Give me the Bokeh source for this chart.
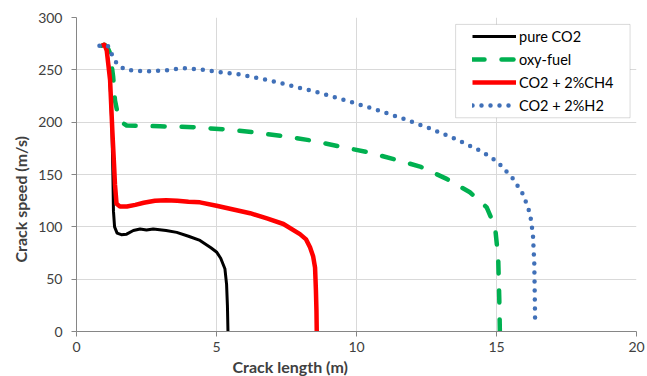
from bokeh.plotting import figure
from bokeh.models import Range1d, Legend, LegendItem, BoxAnnotation, FixedTicker, Title
from bokeh.embed import file_html
from bokeh.resources import INLINE

# ---- data ----
pure_x = [0.9, 1.0, 1.08, 1.17, 1.23, 1.27, 1.30, 1.32, 1.36, 1.45, 1.6, 1.79, 2.03, 2.27, 2.5, 2.74,
          3.2, 3.58, 4.0, 4.41, 4.8, 5.0, 5.15, 5.3, 5.36, 5.39, 5.41]
pure_y = [273, 274, 268, 250, 220, 190, 150, 115, 100, 94, 92.5, 93, 96.5, 98, 97, 98,
          96.5, 94.7, 91, 87, 80, 76, 70, 60, 45, 25, 0]

oxy_x = [0.9, 1.0, 1.1, 1.2, 1.31, 1.375, 1.46, 1.6, 1.79, 2.98, 4.17, 5.36, 6.31, 7.39, 8.4,
         9.41, 10.42, 11.38, 12.27, 13.22, 14.05, 14.65, 14.95, 15.06, 15.1, 15.12]
oxy_y = [273, 274, 272, 266, 243, 220.7, 209.5, 200, 196.8, 196.1, 195.2, 193, 190.4, 186.6, 182.4,
         176.7, 171.2, 164.3, 157.6, 145.8, 133, 118.6, 99.5, 70.8, 30, 0]

ch4_x = [0.9, 1.0, 1.08, 1.2, 1.28, 1.34, 1.375, 1.43, 1.55, 1.8, 2.1, 2.4, 2.8, 3.2, 3.6, 4.0,
         4.41, 5.0, 5.6, 6.2, 6.8, 7.39, 7.98, 8.2, 8.34, 8.45, 8.52, 8.55, 8.57, 8.58]
ch4_y = [273, 274, 268.5, 240, 192, 160, 140, 122, 119.5, 119.5, 121, 123, 125, 125.5, 125, 124,
         123.4, 120.2, 116.5, 113, 108, 102.7, 93, 88, 80.4, 72, 61, 40, 20, 0]

h2_x = [0.82, 1.0, 1.14, 1.29, 1.46, 1.76, 2.45, 3.16, 3.76, 4.41, 5.13, 5.84, 6.79, 7.74, 8.73,
        9.71, 10.7, 11.65, 12.63, 13.58, 14.47, 15.03, 15.6, 15.96, 16.2, 16.3, 16.35, 16.38]
h2_y = [273, 274, 272.4, 263, 255, 250, 248.4, 249.4, 251.6, 250.4, 247.8, 245.6, 240.5, 234.4, 227.7,
        220, 212, 203.5, 194, 183.4, 172, 162.3, 145.8, 130.5, 112.3, 93, 64.5, 8.6]

series_names = ["pure CO2", "oxy-fuel", "CO2 + 2%CH4", "CO2 + 2%H2"]
x_ticks = [0, 5, 10, 15, 20]
y_ticks = [0, 50, 100, 150, 200, 250, 300]
x_title = "Crack length (m)"
y_title = "Crack speed (m/s)"

FONT = "Lato"
TXT = "#404040"
AXC = "#868686"

p = figure(width=647, height=376, output_backend="svg", toolbar_location=None,
           x_range=Range1d(0, 20), y_range=Range1d(0, 300),
           min_border_left=76, min_border_right=11, min_border_top=17, min_border_bottom=45)
p.outline_line_color = None
p.background_fill_color = "white"

for ax in (p.xaxis[0], p.yaxis[0]):
    ax.axis_line_color = AXC
    ax.major_tick_line_color = AXC
    ax.major_tick_out = 5
    ax.major_tick_in = 0
    ax.minor_tick_line_color = None
    ax.major_label_text_font = FONT
    ax.major_label_text_font_size = "14px"
    ax.major_label_text_color = TXT

p.xaxis.ticker = FixedTicker(ticks=x_ticks)
p.yaxis.ticker = FixedTicker(ticks=y_ticks)
p.xaxis.major_label_standoff = 5
p.yaxis.major_label_standoff = 9

p.grid.grid_line_color = "#d9d9d9"
p.grid.grid_line_width = 1
p.xgrid.ticker = FixedTicker(ticks=x_ticks)
p.ygrid.ticker = FixedTicker(ticks=y_ticks)

# axis titles (off-centre as in the reference)
p.add_layout(Title(text=x_title, text_font=FONT, text_font_style="bold", text_font_size="16px",
                   text_color=TXT, align="left", offset=156, standoff=0), "below")
p.add_layout(Title(text=y_title, text_font=FONT, text_font_style="bold", text_font_size="16px",
                   text_color=TXT, align="left", offset=69, standoff=12), "left")

r1 = p.line(pure_x, pure_y, line_color="black", line_width=3, line_join="round")
r2 = p.line(oxy_x, oxy_y, line_color="#00b050", line_width=4.5, line_dash="12 17",
            line_cap="round", line_join="round")
r3 = p.line(ch4_x, ch4_y, line_color="#ff0000", line_width=4.5, line_join="round")
r4 = p.line(h2_x, h2_y, line_color="#4070b8", line_width=4.5, line_dash="0 9",
            line_cap="round", line_join="round")

# legend frame
box = BoxAnnotation(left=13.54, right=19.77, bottom=204.2, top=293.4,
                    fill_color="white", fill_alpha=1.0, line_color=AXC, line_width=1)
p.add_layout(box)

legend = Legend(items=[LegendItem(label=n, renderers=[r]) for n, r in
                       zip(series_names, [r1, r2, r3, r4])],
                location=(396, 216), padding=0, spacing=3, margin=0,
                glyph_width=44, glyph_height=20, label_height=20, label_standoff=3,
                label_text_font=FONT, label_text_font_size="14.5px", label_text_color="black",
                border_line_color=None, background_fill_alpha=0)
p.add_layout(legend)

open("out.html", "w").write(file_html(p, INLINE))
